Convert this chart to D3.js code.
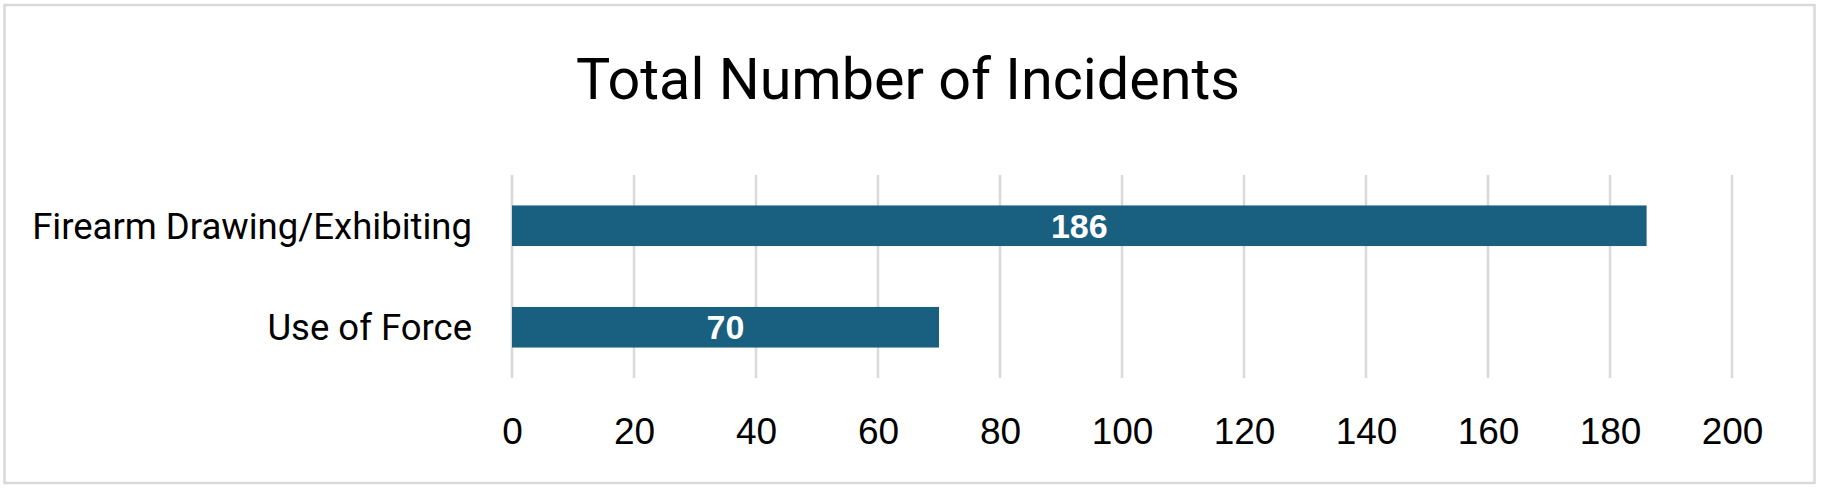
<!DOCTYPE html>
<html>
<head>
<meta charset="utf-8">
<script src="https://cdn.jsdelivr.net/npm/d3@7"></script>
<style>
  html, body { margin: 0; padding: 0; background: #ffffff; }
  svg { display: block; }
</style>
</head>
<body>
<svg id="chart" width="1824" height="490"></svg>
<script>
// ---- data ----
const title = "Total Number of Incidents";
const categories = ["Firearm Drawing/Exhibiting", "Use of Force"];
const values = [186, 70];
const tickValues = [0, 20, 40, 60, 80, 100, 120, 140, 160, 180, 200];

// ---- layout ----
const W = 1824, H = 490;
const plot = { left: 512, right: 1732, top: 175, bottom: 378 };
const barColor = "#185f80";
const gridColor = "#d9d9d9";
const font = "Roboto, 'Liberation Sans', Arial, sans-serif";

const svg = d3.select("#chart");

svg.append("rect")
  .attr("x", 0).attr("y", 0).attr("width", W).attr("height", H)
  .attr("fill", "#ffffff");

// outer border
svg.append("rect")
  .attr("x", 4.5).attr("y", 5).attr("width", 1810).attr("height", 478)
  .attr("fill", "#ffffff")
  .attr("stroke", "#d9d9d9").attr("stroke-width", 2.5);

const x = d3.scaleLinear().domain([0, 200]).range([plot.left, plot.right]);
const y = d3.scaleBand().domain(categories).range([plot.top, plot.bottom])
  .paddingInner(0.6).paddingOuter(0.3);

// gridlines
svg.append("g")
  .selectAll("line").data(tickValues).join("line")
  .attr("x1", d => x(d)).attr("x2", d => x(d))
  .attr("y1", plot.top).attr("y2", plot.bottom)
  .attr("stroke", gridColor).attr("stroke-width", 2.5);

// bars
svg.append("g")
  .selectAll("rect").data(categories).join("rect")
  .attr("x", x(0))
  .attr("y", d => y(d))
  .attr("width", (d, i) => x(values[i]) - x(0))
  .attr("height", y.bandwidth())
  .attr("fill", barColor);

// value labels
svg.append("g")
  .selectAll("text").data(categories).join("text")
  .attr("x", (d, i) => (x(0) + x(values[i])) / 2)
  .attr("y", d => y(d) + y.bandwidth() / 2)
  .attr("dy", "0.36em")
  .attr("text-anchor", "middle")
  .attr("font-family", "'Liberation Sans', Arial, sans-serif")
  .attr("font-weight", "bold")
  .attr("font-size", 34)
  .attr("fill", "#ffffff")
  .text((d, i) => values[i]);

// x axis
const xAxis = d3.axisBottom(x).tickValues(tickValues).tickSize(0).tickPadding(0).tickFormat(d3.format("d"));
const gx = svg.append("g").attr("transform", `translate(0, ${plot.bottom})`).call(xAxis);
gx.select(".domain").remove();
gx.selectAll("text")
  .attr("y", 0)
  .attr("dy", 0)
  .attr("transform", "translate(0, 66)")
  .attr("font-family", "'Liberation Sans', Arial, sans-serif")
  .attr("font-size", 37)
  .attr("fill", "#000000");

// y axis
const yAxis = d3.axisLeft(y).tickSize(0).tickPadding(0);
const gy = svg.append("g").attr("transform", `translate(${plot.left - 40}, 0)`).call(yAxis);
gy.select(".domain").remove();
gy.selectAll("text")
  .attr("x", 0)
  .attr("dy", "0.36em")
  .attr("font-family", font)
  .attr("font-size", 36.5)
  .attr("fill", "#000000");

// title
svg.append("text")
  .attr("x", 908).attr("y", 99)
  .attr("text-anchor", "middle")
  .attr("font-family", font)
  .attr("font-size", 57.5)
  .attr("fill", "#000000")
  .text(title);
</script>
</body>
</html>
